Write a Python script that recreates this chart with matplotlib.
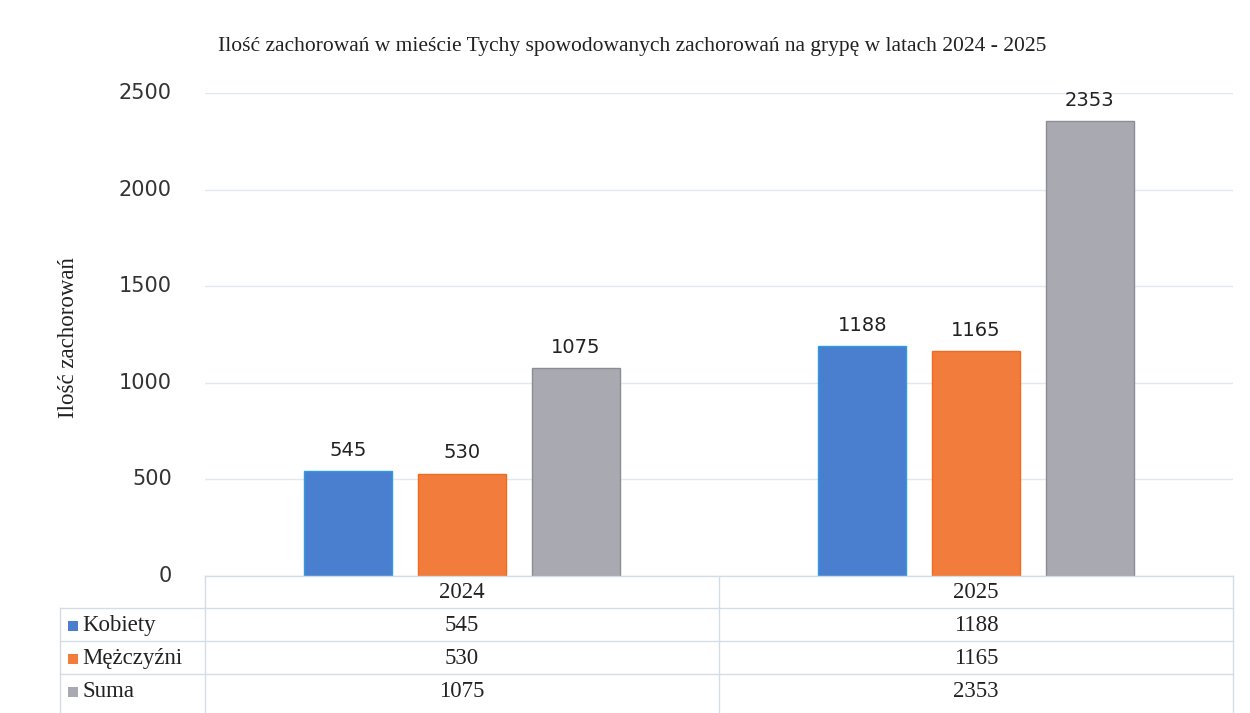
import matplotlib
matplotlib.use("Agg")
import matplotlib.pyplot as plt
import matplotlib.transforms as mtransforms
from matplotlib.lines import Line2D
from matplotlib.patches import Rectangle
import numpy as np

title = "Ilość zachorowań w mieście Tychy spowodowanych zachorowań na grypę w latach 2024 - 2025"
ylabel = "Ilość zachorowań"
years = ["2024", "2025"]
series_names = ["Kobiety", "Mężczyźni", "Suma"]
kobiety = [545, 1188]
mezczyzni = [530, 1165]
suma = [1075, 2353]
yticks = [0, 500, 1000, 1500, 2000, 2500]

colors = ["#4a7fcf", "#f27c3c", "#a9a9b2"]
edges = ["#2f9be0", "#f06a20", "#8c8c94"]
W, H = 1250, 713
fig = plt.figure(figsize=(12.5, 7.13), dpi=100)
fig.patch.set_facecolor("white")

def fx(px):
    return px / W

def fy(py):
    return 1 - py / H

left, right, bottom, top = 205, 1233, 576, 93
ax = fig.add_axes([fx(left), fy(bottom), fx(right - left), fy(top) - fy(bottom)])
ax.set_xlim(-0.5, 1.5)
ax.set_ylim(0, 2500)

x = np.arange(len(years))
series = [kobiety, mezczyzni, suma]
offs = [-0.221, 0.0, 0.221]
bw = 0.171
for vals, off, c, ec in zip(series, offs, colors, edges):
    bars = ax.bar(x + off, vals, width=bw, color=c, edgecolor=ec, linewidth=1.0, zorder=3)
    for b, v in zip(bars, vals):
        ax.annotate(str(v), (b.get_x() + b.get_width() / 2, v), xytext=(0, 8),
                    textcoords="offset points", ha="center", va="bottom",
                    fontsize=14, family="DejaVu Sans", color="#222222")

ax.set_yticks(yticks)
ax.set_yticklabels([str(t) for t in yticks], fontsize=15, family="DejaVu Sans", color="#333333")
for lbl in ax.get_yticklabels():
    lbl.set_verticalalignment("center")
ax.tick_params(axis="y", length=0, pad=24)
ax.tick_params(axis="x", length=0, labelbottom=False)
ax.grid(axis="y", color="#e2e8ee", linewidth=1.0, zorder=0)
for s in ax.spines.values():
    s.set_visible(False)
ax.set_facecolor("none")

fig.text(fx(68), fy(338), ylabel, rotation=90, ha="center", va="center",
         fontsize=16.5, family="Liberation Serif", color="#222222")
fig.text(fx(632), fy(46), title, ha="center", va="center",
         fontsize=15.5, family="Liberation Serif", color="#222222")

# data table
lc = "#d3dde8"
def hline(x0, x1, y):
    fig.add_artist(Line2D([fx(x0), fx(x1)], [fy(y), fy(y)], color=lc, lw=1.0))
def vline(xx, y0, y1):
    fig.add_artist(Line2D([fx(xx), fx(xx)], [fy(y0), fy(y1)], color=lc, lw=1.0))

row_lines = [576, 608, 641, 674, 707]
hline(left, right, row_lines[0])
for yl in row_lines[1:4]:
    hline(60, right, yl)
vline(left, 576, 713)
vline(719, 576, 713)
vline(right, 576, 713)
vline(60, 608, 713)

blend = mtransforms.blended_transform_factory(ax.transData, fig.transFigure)
row_centers = [(row_lines[i] + row_lines[i + 1]) / 2 + 1 for i in range(4)]
for xi, yr in zip(x, years):
    fig.text(xi, fy(row_centers[0]), yr, transform=blend, ha="center", va="center",
             fontsize=16.5, family="Liberation Serif", color="#222222")
for r, (name, vals, c) in enumerate(zip(series_names, series, colors)):
    yc = row_centers[r + 1]
    fig.add_artist(Rectangle((fx(68), fy(yc + 5)), fx(10), fy(yc - 5) - fy(yc + 5),
                             facecolor=c, edgecolor="none", transform=fig.transFigure))
    fig.text(fx(82), fy(yc), name, ha="left", va="center",
             fontsize=16.5, family="Liberation Serif", color="#222222")
    for xi, v in zip(x, vals):
        fig.text(xi, fy(yc), str(v), transform=blend, ha="center", va="center",
                 fontsize=16.5, family="Liberation Serif", color="#222222")

fig.savefig("out.png", dpi=100, facecolor="white")
